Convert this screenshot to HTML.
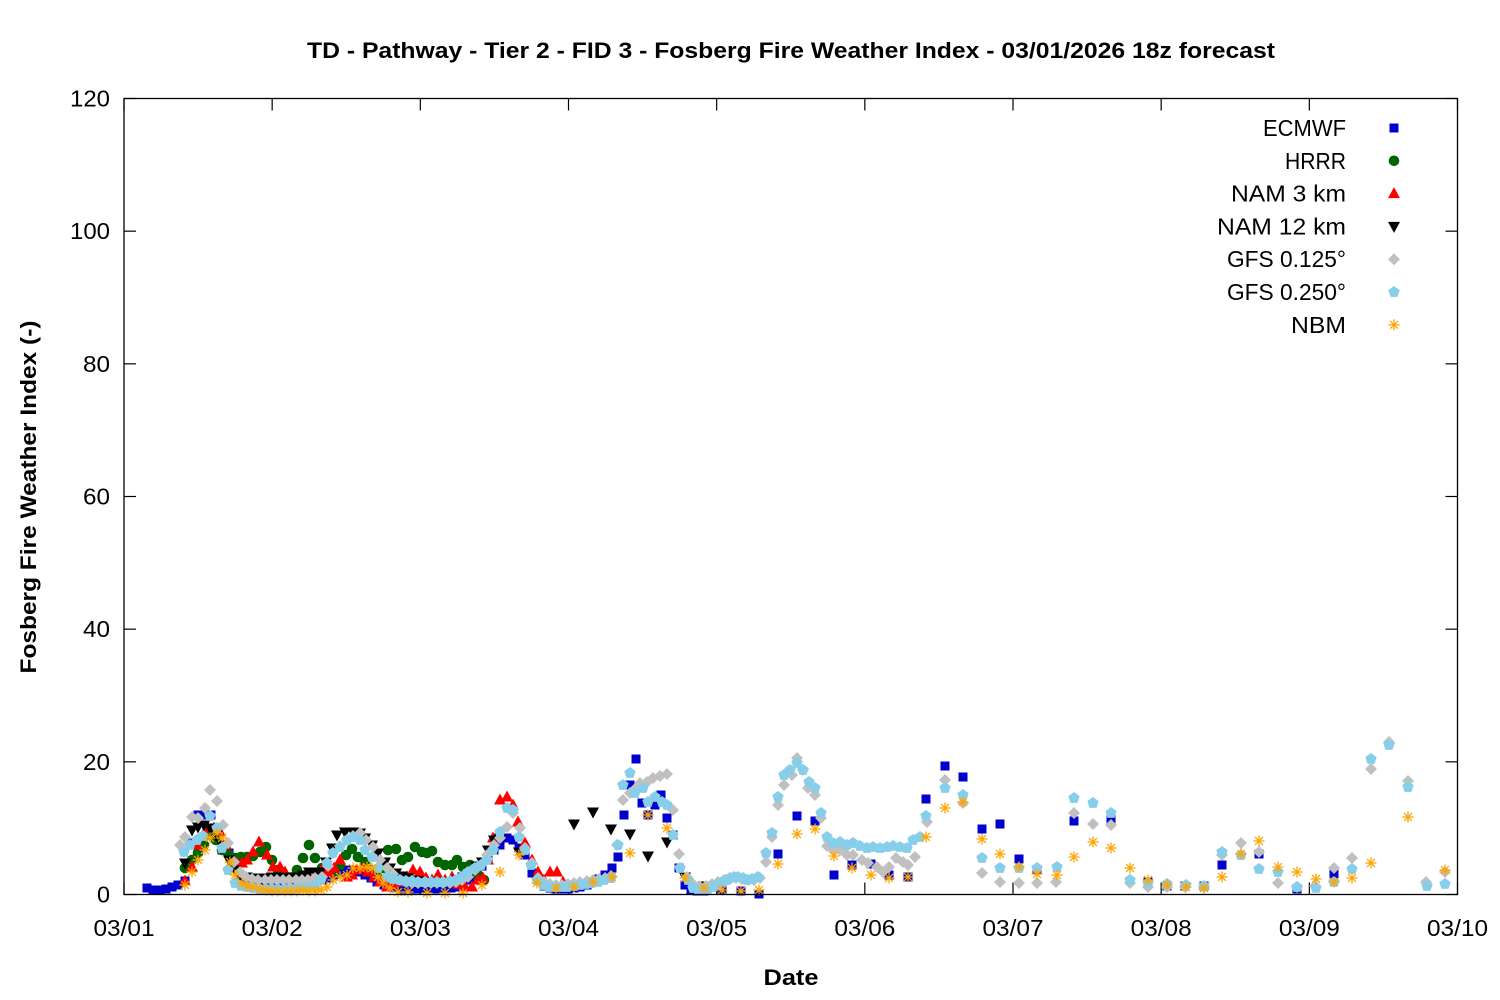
<!DOCTYPE html>
<html><head><meta charset="utf-8">
<style>
html,body{margin:0;padding:0;background:#fff;}
svg{display:block;}
text{font-family:"Liberation Sans","DejaVu Sans",sans-serif;fill:#000;}
</style></head>
<body>
<svg id="s" width="1500" height="1000" xmlns="http://www.w3.org/2000/svg">
<rect width="1500" height="1000" fill="#fff"/>
<text x="791" y="58" font-size="22" font-weight="bold" text-anchor="middle" textLength="968" lengthAdjust="spacingAndGlyphs">TD - Pathway - Tier 2 - FID 3 - Fosberg Fire Weather Index - 03/01/2026 18z forecast</text>
<g id="ticks" stroke="#000" stroke-width="1.2"></g>
<g id="labels" font-size="23"></g>
<text x="791" y="985" font-size="22" font-weight="bold" text-anchor="middle" textLength="55" lengthAdjust="spacingAndGlyphs">Date</text>
<text transform="translate(36,497) rotate(-90)" font-size="22" font-weight="bold" text-anchor="middle" textLength="353" lengthAdjust="spacingAndGlyphs">Fosberg Fire Weather Index (-)</text>
<g id="data"></g>
<rect x="124" y="98.5" width="1333.5" height="796" fill="none" stroke="#000" stroke-width="1.3"/>
<g id="legend" font-size="23"></g>
</svg>
<script>
var NS="http://www.w3.org/2000/svg";
var L=124,R=1457.5,T=98.5,B=894.5;
var t='',l='';
for(var v=0;v<=120;v+=20){
  var y=B-v*(B-T)/120;
  t+='<line x1="'+L+'" y1="'+y+'" x2="'+(L+12)+'" y2="'+y+'"/>';
  t+='<line x1="'+R+'" y1="'+y+'" x2="'+(R-12)+'" y2="'+y+'"/>';
  var w=(v>=100?40:(v>=10?27:13));
  l+='<text x="110" y="'+(y+8)+'" text-anchor="end" textLength="'+w+'" lengthAdjust="spacingAndGlyphs">'+v+'</text>';
}
for(var d=0;d<=9;d++){
  var x=L+d*(R-L)/9;
  t+='<line x1="'+x+'" y1="'+B+'" x2="'+x+'" y2="'+(B-12)+'"/>';
  t+='<line x1="'+x+'" y1="'+T+'" x2="'+x+'" y2="'+(T+12)+'"/>';
  var lab='03/'+(d+1<10?'0'+(d+1):(d+1));
  l+='<text x="'+x+'" y="936" text-anchor="middle" textLength="61" lengthAdjust="spacingAndGlyphs">'+lab+'</text>';
}
document.getElementById('ticks').innerHTML=t;
document.getElementById('labels').innerHTML=l;

function mk(type,x,y,c){
  switch(type){
    case 'sq': return '<rect x="'+(x-4.5)+'" y="'+(y-4.5)+'" width="9" height="9" fill="'+c+'"/>';
    case 'ci': return '<circle cx="'+x+'" cy="'+y+'" r="5.3" fill="'+c+'"/>';
    case 'tu': return '<polygon points="'+(x-6)+','+(y+4.5)+' '+(x+6)+','+(y+4.5)+' '+x+','+(y-6.5)+'" fill="'+c+'"/>';
    case 'td': return '<polygon points="'+(x-6)+','+(y-4.5)+' '+(x+6)+','+(y-4.5)+' '+x+','+(y+6.5)+'" fill="'+c+'"/>';
    case 'di': return '<polygon points="'+x+','+(y-6)+' '+(x+6)+','+y+' '+x+','+(y+6)+' '+(x-6)+','+y+'" fill="'+c+'"/>';
    case 'pe':
      var p=[];for(var i=0;i<5;i++){var a=-Math.PI/2+i*2*Math.PI/5;p.push((x+6*Math.cos(a)).toFixed(1)+','+(y+6*Math.sin(a)).toFixed(1));}
      return '<polygon points="'+p.join(' ')+'" fill="'+c+'"/>';
    case 'as':
      var s='',r=5.5,q=3.9;
      s+='<line x1="'+(x-r)+'" y1="'+y+'" x2="'+(x+r)+'" y2="'+y+'"/>';
      s+='<line x1="'+x+'" y1="'+(y-r)+'" x2="'+x+'" y2="'+(y+r)+'"/>';
      s+='<line x1="'+(x-q)+'" y1="'+(y-q)+'" x2="'+(x+q)+'" y2="'+(y+q)+'"/>';
      s+='<line x1="'+(x-q)+'" y1="'+(y+q)+'" x2="'+(x+q)+'" y2="'+(y-q)+'"/>';
      return '<g stroke="'+c+'" stroke-width="1.3">'+s+'</g>';
  }
}

var ECMWF=[[147,888],[153,890],[160,890],[166,889],[172,887],[178,885],[185,881],[192,843],[198,815],[204,815],[211,815],[216,838],[222,850],[229,853],[235,866],[241,880],[247,884],[253,886],[260,887],[266,887],[272,888],[278,888],[285,887],[291,887],[297,887],[303,886],[309,884],[315,882],[322,880],[328,878],[334,875],[340,872],[346,870],[353,870],[359,872],[365,875],[371,878],[377,882],[384,885],[390,887],[396,888],[402,889],[408,889],[414,889],[420,889],[427,889],[433,889],[439,889],[445,889],[451,888],[457,887],[463,885],[470,880],[476,873],[482,866],[488,860],[494,850],[500,845],[507,838],[513,840],[519,848],[525,855],[532,873],[538,880],[544,886],[550,888],[556,889],[562,889],[568,889],[574,888],[580,887],[587,885],[593,882],[599,879],[605,875],[612,868],[618,857],[624,815],[630,785],[636,759],[642,803],[648,815],[655,805],[661,795],[667,818],[673,835],[679,868],[685,885],[691,890],[697,891],[704,891],[722,890],[741,891],[759,894],[778,854],[797,816],[815,821],[834,875],[852,865],[871,864],[889,875],[908,877],[926,799],[945,766],[963,777],[982,829],[1000,824],[1019,859],[1037,870],[1074,821],[1111,819],[1148,882],[1167,886],[1185,886],[1204,886],[1222,865],[1259,854],[1297,889],[1334,874]];
var HRRR=[[185,868],[192,860],[198,853],[204,845],[210,835],[216,840],[222,850],[229,855],[235,858],[241,857],[247,857],[253,856],[260,852],[266,847],[272,860],[278,870],[285,876],[291,878],[297,870],[303,858],[309,845],[315,858],[322,868],[328,870],[334,872],[340,865],[346,855],[352,849],[358,857],[365,862],[371,870],[377,875],[383,868],[388,850],[396,849],[402,860],[408,857],[415,847],[422,852],[427,853],[432,851],[438,862],[445,865],[452,865],[457,860],[463,867],[470,865],[478,875],[484,880]];
var NAM3=[[185,881],[192,867],[197,845],[203,835],[208,828],[214,828],[220,832],[226,845],[232,862],[237,863],[242,863],[247,860],[253,852],[259,842],[267,855],[273,867],[280,867],[285,872],[291,878],[297,880],[302,883],[310,878],[316,875],[323,868],[329,872],[334,868],[340,860],[347,877],[352,875],[357,870],[363,868],[368,872],[374,877],[380,882],[387,887],[393,885],[400,882],[407,877],[413,870],[420,872],[426,878],[432,880],[438,875],[445,880],[452,877],[458,884],[465,887],[472,887],[478,880],[483,878],[488,860],[493,838],[500,800],[507,797],[513,805],[518,822],[525,843],[532,860],[538,872],[544,880],[550,872],[557,872],[563,882],[569,886]];
var NAM12=[[185,863],[192,830],[198,827],[204,825],[210,828],[216,835],[222,845],[229,860],[235,870],[241,877],[247,877],[253,878],[260,878],[266,878],[272,877],[278,877],[285,878],[291,877],[297,877],[303,875],[309,872],[315,872],[320,872],[326,862],[332,848],[337,835],[345,832],[353,832],[360,833],[365,838],[372,845],[378,853],[385,862],[390,868],[396,873],[402,876],[408,878],[414,880],[420,881],[426,882],[432,882],[438,882],[445,883],[451,882],[457,880],[463,877],[470,872],[476,866],[482,862],[488,850],[494,840],[500,838],[519,852],[537,880],[556,888],[574,824],[593,812],[611,829],[630,834],[648,856],[667,842],[685,877],[704,886]];
var GFS1=[[180,845],[185,837],[192,817],[198,818],[205,808],[210,790],[217,801],[223,825],[228,843],[234,862],[240,872],[246,877],[252,879],[258,880],[265,880],[271,880],[277,880],[283,880],[289,880],[296,880],[302,880],[308,880],[315,878],[322,877],[328,866],[333,853],[340,846],[347,840],[353,836],[360,833],[366,840],[373,847],[380,860],[387,868],[393,874],[400,880],[406,882],[412,883],[418,883],[425,883],[431,883],[437,883],[443,883],[450,883],[456,882],[462,880],[468,877],[475,870],[481,865],[487,855],[494,845],[500,838],[507,827],[513,813],[520,828],[525,848],[532,863],[538,878],[544,882],[550,884],[556,885],[562,885],[568,884],[574,883],[580,882],[587,881],[593,880],[599,879],[605,878],[611,876],[617,845],[623,800],[630,793],[636,788],[640,783],[647,782],[653,778],[660,776],[667,774],[673,810],[679,854],[687,877],[693,884],[700,887],[706,886],[712,884],[718,882],[724,880],[730,879],[736,878],[742,879],[748,880],[754,880],[760,878],[766,862],[772,837],[778,805],[784,785],[792,775],[797,758],[803,770],[808,788],[815,795],[821,818],[827,846],[833,850],[840,850],[847,855],[853,855],[862,860],[868,863],[877,867],[883,872],[889,867],[896,858],[903,862],[908,865],[915,857],[927,822],[945,780],[963,803],[982,873],[1000,882],[1019,883],[1037,883],[1056,882],[1074,813],[1093,824],[1111,825],[1130,883],[1148,887],[1167,887],[1185,887],[1204,887],[1222,855],[1241,843],[1259,852],[1278,883],[1297,887],[1315,886],[1334,868],[1352,858],[1371,769],[1389,742],[1408,781],[1426,882],[1445,872]];
var GFS2=[[184,852],[190,845],[197,840],[203,836],[210,816],[217,828],[222,848],[228,870],[235,883],[241,886],[247,887],[253,888],[260,889],[266,889],[272,889],[278,889],[285,889],[291,889],[297,888],[303,888],[309,887],[315,886],[321,880],[327,863],[333,853],[340,847],[347,840],[353,837],[360,840],[365,850],[372,857],[378,868],[387,877],[393,879],[400,880],[406,881],[412,881],[418,882],[425,882],[431,882],[437,882],[443,882],[450,881],[456,880],[462,877],[468,872],[475,868],[481,865],[487,860],[493,850],[500,832],[507,808],[513,810],[519,837],[525,850],[531,865],[537,880],[543,885],[549,887],[555,887],[561,887],[567,887],[573,886],[580,885],[586,884],[592,883],[598,882],[604,880],[611,878],[618,845],[623,785],[630,773],[635,793],[643,788],[648,802],[655,797],[662,802],[667,805],[673,835],[680,868],[688,880],[693,888],[698,890],[703,890],[708,889],[713,887],[718,885],[722,882],[726,880],[730,878],[734,877],[738,877],[743,878],[747,880],[752,879],[758,877],[766,853],[772,833],[778,797],[784,775],[790,770],[797,763],[803,770],[809,782],[815,788],[821,813],[827,837],[833,843],[840,842],[847,845],[853,843],[860,846],[867,848],[873,847],[880,848],[887,847],[893,846],[900,847],[907,848],[913,840],[920,837],[926,816],[945,788],[963,795],[982,858],[1000,868],[1019,868],[1037,868],[1057,867],[1074,798],[1093,803],[1111,813],[1130,880],[1148,883],[1167,884],[1186,885],[1204,886],[1222,852],[1241,855],[1259,869],[1278,872],[1297,887],[1316,888],[1334,882],[1352,869],[1371,759],[1389,745],[1408,787],[1427,886],[1445,884]];
var NBM=[[185,885],[192,872],[198,860],[205,850],[210,838],[217,833],[222,838],[230,862],[235,875],[242,883],[247,886],[253,887],[260,889],[266,890],[272,891],[278,891],[285,891],[291,891],[297,891],[303,890],[309,891],[315,891],[321,890],[327,887],[333,880],[340,877],[347,875],[353,868],[360,868],[367,867],[372,868],[378,877],[383,883],[390,888],[398,892],[408,892],[427,893],[445,893],[463,893],[482,885],[500,872],[519,855],[537,883],[556,888],[574,887],[593,882],[612,877],[630,853],[648,815],[667,828],[685,878],[704,888],[722,890],[741,891],[759,890],[778,864],[797,834],[815,829],[834,856],[852,868],[871,875],[889,878],[908,877],[926,837],[945,808],[963,802],[982,839],[1000,854],[1019,867],[1037,874],[1057,875],[1074,857],[1093,842],[1111,848],[1130,868],[1148,880],[1167,885],[1186,887],[1204,888],[1222,877],[1241,854],[1259,841],[1278,867],[1297,872],[1316,879],[1334,882],[1352,878],[1371,863],[1408,817],[1445,870]];

var series=[
 ['ECMWF','sq','#0000cc',ECMWF,83],
 ['HRRR','ci','#006400',HRRR,61],
 ['NAM 3 km','tu','#ff0000',NAM3,115],
 ['NAM 12 km','td','#000000',NAM12,129],
 ['GFS 0.125°','di','#c0c0c0',GFS1,119],
 ['GFS 0.250°','pe','#87ceeb',GFS2,119],
 ['NBM','as','#ffa500',NBM,55]
];
var out='',leg='';
series.forEach(function(s,i){
  s[3].forEach(function(p){out+=mk(s[1],p[0],p[1],s[2]);});
  var ly=128+i*32.8;
  leg+='<text x="1346" y="'+(ly+8)+'" text-anchor="end" textLength="'+s[4]+'" lengthAdjust="spacingAndGlyphs">'+s[0]+'</text>';
  leg+=mk(s[1],1394,ly,s[2]);
});
document.getElementById('data').innerHTML=out;
document.getElementById('legend').innerHTML=leg;
</script>
</body></html>
